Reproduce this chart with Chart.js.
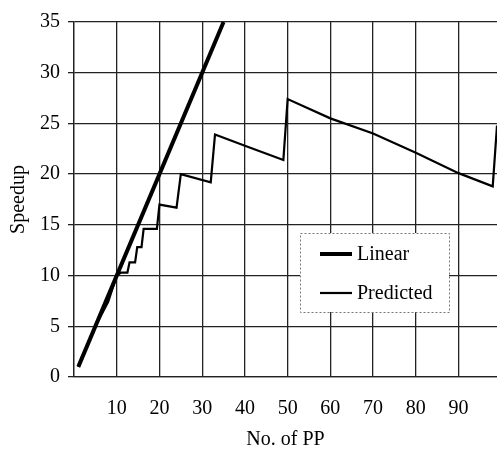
<!DOCTYPE html>
<html>
<head>
<meta charset="utf-8">
<script src="https://cdn.jsdelivr.net/npm/chart.js@4"></script>
<style>
  html, body { margin: 0; padding: 0; background: #fff; }
  #wrap { width: 497px; height: 452px; }
</style>
</head>
<body>
<div id="wrap"><canvas id="SpeedupChart" width="497" height="452"></canvas></div>
<script>
const seriesNames = ['Linear', 'Predicted'];

const linearX = [1, 35];
const linearY = [1, 35];

const predictedX = [1, 5, 8, 10, 11, 12.5, 13, 14.3, 14.8, 15.8, 16.3, 19.4, 20, 24, 25, 32, 33, 40, 49, 50, 60, 70, 80, 90, 98, 99];
const predictedY = [1, 5, 7.4, 10, 10.3, 10.3, 11.3, 11.3, 12.8, 12.8, 14.6, 14.6, 17.0, 16.7, 20.0, 19.2, 23.9, 22.8, 21.4, 27.4, 25.5, 24.0, 22.1, 20.1, 18.8, 24.8];

const toPoints = (xs, ys) => xs.map((x, i) => ({ x, y: ys[i] }));

Chart.defaults.font.family = '"Liberation Serif", "Times New Roman", serif';
Chart.defaults.font.size = 20;
Chart.defaults.color = '#000';

// legend box drawn by hand so it sits inside the plot with a dotted frame
const boxLegend = {
  id: 'boxLegend',
  afterDatasetsDraw(chart) {
    const { ctx, chartArea } = chart;
    const left = chartArea.left + 226;
    const top = chartArea.top + 211;
    const w = 149, h = 79;
    ctx.save();
    ctx.fillStyle = '#fff';
    ctx.fillRect(left, top, w, h);
    ctx.setLineDash([2, 2]);
    ctx.strokeStyle = '#777';
    ctx.lineWidth = 1;
    ctx.strokeRect(left + 0.5, top + 0.5, w, h);
    ctx.setLineDash([]);
    ctx.font = '20px "Liberation Serif", serif';
    ctx.textBaseline = 'middle';
    ctx.fillStyle = '#000';
    chart.data.datasets.forEach((ds, i) => {
      const y = top + 21 + i * 39;
      ctx.strokeStyle = ds.borderColor;
      ctx.lineWidth = ds.borderWidth;
      ctx.beginPath();
      ctx.moveTo(left + 20, y);
      ctx.lineTo(left + 52, y);
      ctx.stroke();
      ctx.fillText(ds.label, left + 57, y + 1);
    });
    ctx.restore();
  }
};

const config = {
  type: 'line',
  data: {
    datasets: [
      {
        label: seriesNames[0],
        data: toPoints(linearX, linearY),
        borderColor: '#000',
        borderWidth: 4,
        pointRadius: 0,
        tension: 0,
      },
      {
        label: seriesNames[1],
        data: toPoints(predictedX, predictedY),
        borderColor: '#000',
        borderWidth: 2.2,
        pointRadius: 0,
        tension: 0,
      },
    ],
  },
  options: {
    responsive: false,
    animation: false,
    layout: { padding: { top: 22, right: 0, left: 0, bottom: 0 } },
    plugins: {
      legend: { display: false },
      tooltip: { enabled: false },
    },
    scales: {
      x: {
        type: 'linear',
        min: 0,
        max: 99,
        afterFit: (scale) => { scale.height = 75; },
        ticks: {
          stepSize: 10,
          includeBounds: false,
          padding: 20,
          maxRotation: 0,
          callback: (v) => (v === 0 ? '' : v),
        },
        grid: { color: '#222', lineWidth: 1.3, drawTicks: false },
        border: { color: '#222', width: 1.3 },
        title: { display: true, text: 'No. of PP', padding: { top: 0, bottom: 0 }, font: { size: 20 } },
      },
      y: {
        min: 0,
        max: 35,
        afterFit: (scale) => { scale.width = 74; },
        ticks: { stepSize: 5, padding: 8 },
        grid: { color: '#222', lineWidth: 1.3, tickLength: 6 },
        border: { color: '#222', width: 1.3 },
        title: { display: true, text: 'Speedup', padding: { top: 7, bottom: 0 }, font: { size: 20 } },
      },
    },
  },
  plugins: [boxLegend],
};

new Chart(document.getElementById('SpeedupChart'), config);
</script>
</body>
</html>
